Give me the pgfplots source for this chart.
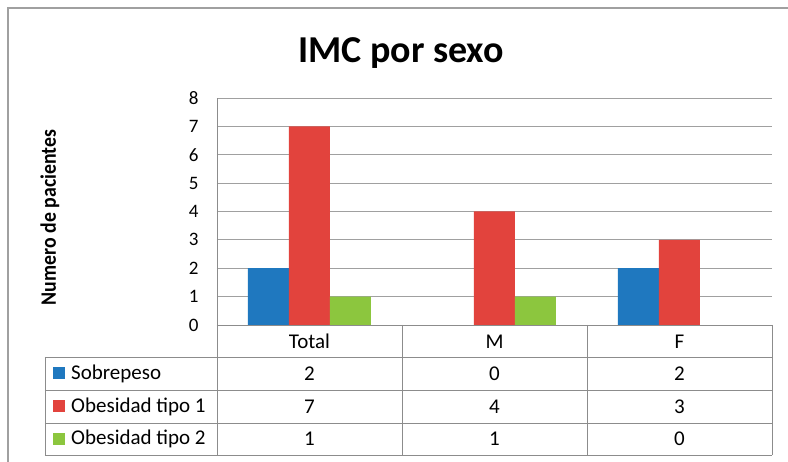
\documentclass[border=0pt]{standalone}
\usepackage{fontspec}
\setmainfont{Carlito}
\usepackage{pgfplots}
\pgfplotsset{compat=1.18}
\definecolor{cblue}{HTML}{1F78BF}
\definecolor{cred}{HTML}{E2433D}
\definecolor{cgreen}{HTML}{8CC63E}
\definecolor{gridc}{HTML}{A0A0A0}
\definecolor{tabc}{HTML}{8C8C8C}
\begin{document}
\begin{tikzpicture}[x=1pt,y=1pt]
\useasboundingbox (-217,-137) rectangle (571,325);
\fill[white] (-217,-137) rectangle (571,325);
\draw[gridc, line width=1.3pt] (-209,-137) -- (-209,317) -- (571,317);
\begin{axis}[
  at={(0,0)}, anchor=south west,
  scale only axis, width=555pt, height=227pt,
  xmin=-0.5, xmax=2.5, ymin=0, ymax=8,
  axis lines*=left, axis line style={tabc, line width=0.9pt},
  ytick={0,...,8}, ymajorgrids, grid style={gridc, line width=0.9pt},
  major tick length=0,
  xtick={0,1,2}, xticklabels={Total,M,F},
  xticklabel style={anchor=center, yshift=-16.5pt, font=\fontsize{21}{24}\selectfont},
  yticklabel style={anchor=east, xshift=-15pt, font=\fontsize{19}{22}\selectfont},
  /pgf/number format/assume math mode=true,
  clip=false,
]
% Sobrepeso: Total 2, M 0, F 2 (zero bars drawn as nothing)
\addplot[ybar, bar width=41pt, bar shift=-41pt, fill=cblue, draw=none] coordinates {(0,2) (2,2)};
% Obesidad tipo 1: 7, 4, 3
\addplot[ybar, bar width=41pt, bar shift=0pt, fill=cred, draw=none] coordinates {(0,7) (1,4) (2,3)};
% Obesidad tipo 2: 1, 1, 0
\addplot[ybar, bar width=41pt, bar shift=41pt, fill=cgreen, draw=none] coordinates {(0,1) (1,1)};
% table values
\addplot[draw=none, mark=none, nodes near coords, point meta=explicit symbolic,
  every node near coord/.append style={anchor=center, font=\fontsize{21}{24}\selectfont}]
  coordinates {(0,-1.709)[2] (1,-1.709)[0] (2,-1.709)[2]};
\addplot[draw=none, mark=none, nodes near coords, point meta=explicit symbolic,
  every node near coord/.append style={anchor=center, font=\fontsize{21}{24}\selectfont}]
  coordinates {(0,-2.872)[7] (1,-2.872)[4] (2,-2.872)[3]};
\addplot[draw=none, mark=none, nodes near coords, point meta=explicit symbolic,
  every node near coord/.append style={anchor=center, font=\fontsize{21}{24}\selectfont}]
  coordinates {(0,-4.018)[1] (1,-4.018)[1] (2,-4.018)[0]};
\end{axis}
% table grid
\begin{scope}[tabc, line width=0.9pt]
\draw (-172,-32) -- (555,-32);
\draw (-172,-65) -- (555,-65);
\draw (-172,-98) -- (555,-98);
\draw (-172,-130) -- (555,-130);
\draw (-172,-32) -- (-172,-130);
\draw (0,0) -- (0,-130);
\draw (185,0) -- (185,-130);
\draw (370,0) -- (370,-130);
\draw (555,0) -- (555,-130);
\end{scope}
% row labels
\fill[cblue] (-164,-54.5) rectangle (-152,-42.5);
\fill[cred] (-164,-87.5) rectangle (-152,-75.5);
\fill[cgreen] (-164,-120) rectangle (-152,-108);
\node[anchor=west, inner sep=0pt, font=\fontsize{21}{24}\selectfont] at (-146,-48.5) {Sobrepeso};
\node[anchor=west, inner sep=0pt, font=\fontsize{21}{24}\selectfont] at (-146,-81.5) {Obesidad tipo 1};
\node[anchor=west, inner sep=0pt, font=\fontsize{21}{24}\selectfont] at (-146,-114) {Obesidad tipo 2};
% title and y label
\node[font=\bfseries\fontsize{38}{42}\selectfont] at (184,272) {IMC por sexo};
\node[rotate=90] at (-167,107.5) {\scalebox{0.9}[1]{\bfseries\fontsize{22}{24}\selectfont Numero de pacientes}};
\end{tikzpicture}
\end{document}
